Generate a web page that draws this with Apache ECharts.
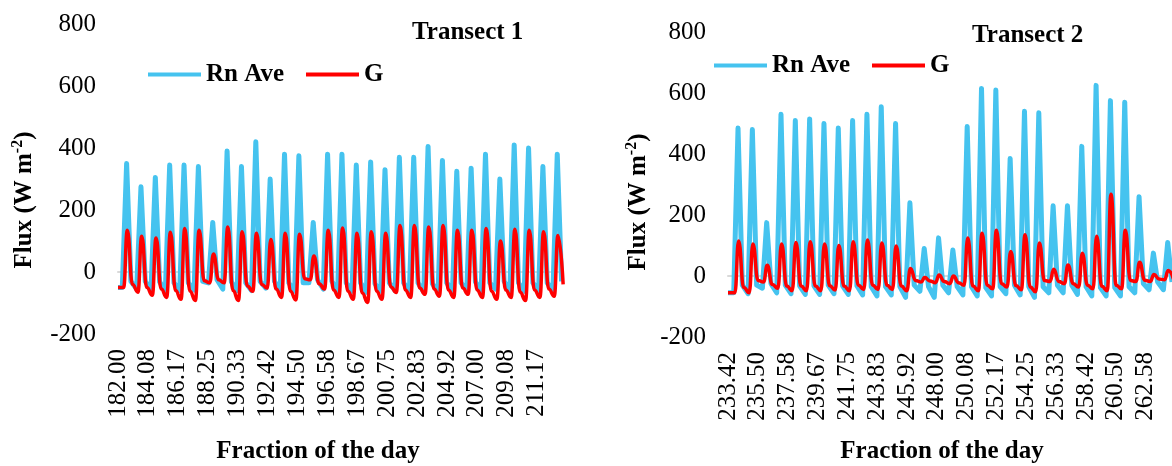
<!DOCTYPE html>
<html>
<head>
<meta charset="utf-8">
<script src="https://cdn.jsdelivr.net/npm/echarts@6/dist/echarts.min.js"></script>
<style>
  html, body { margin: 0; padding: 0; background: #fff; }
  #chart { width: 1172px; height: 466px; }
</style>
</head>
<body>
<div id="chart"></div>
<script>
// ---- Transect 1: day-of-year 182 .. 213, one diurnal cycle per day ----
const t1Start = 182;
const t1Days = 31;
const t1RnPeak = [350, 275, 305, 345, 345, 340, 160, 390, 340, 420, 300, 380, 375, 160, 380, 380,
                  345, 355, 330, 370, 370, 405, 360, 325, 335, 380, 300, 410, 400, 340, 380];
const t1RnLow  = [-50, -55, -58, -60, -60, -58, -35, -55, -60, -60, -52, -60, -62, -35, -55, -62,
                  -62, -65, -62, -60, -62, -64, -62, -60, -58, -60, -55, -62, -62, -60, -58];
const t1RnDusk = [-30, -30, -32, -35, -35, -30, -25, -32, -35, -30, -30, -35, -35, -25, -30, -35,
                  -35, -38, -35, -35, -35, -38, -35, -35, -32, -35, -30, -35, -35, -35, -30];
const t1GPeak  = [135, 115, 110, 128, 140, 135, 58, 145, 130, 125, 105, 125, 122, 52, 135, 142,
                  125, 130, 125, 150, 150, 145, 150, 135, 135, 140, 100, 138, 135, 130, 118];
const t1GLow   = [-50, -65, -75, -82, -88, -92, -35, -35, -92, -62, -52, -82, -90, -25, -55, -82,
                  -88, -98, -88, -66, -82, -72, -78, -82, -72, -82, -88, -82, -92, -82, -78];
const t1GDusk  = [-40, -50, -55, -60, -62, -28, -25, -60, -45, -40, -55, -62, -22, -38, -58, -62,
                  -68, -62, -48, -58, -52, -55, -58, -52, -58, -62, -58, -65, -58, -55, -40];

// ---- Transect 2: day-of-year 233.42 .. 264.42 ----
const t2Start = 233 + 5 / 12;
const t2Days = 31;
const t2RnPeak = [485, 480, 175, 530, 510, 515, 500, 485, 510, 530, 555, 500, 240, 90, 125, 85,
                  490, 615, 610, 385, 540, 535, 230, 230, 425, 625, 575, 570, 260, 75, 110];
const t2RnLow  = [-55, -58, -40, -55, -58, -60, -60, -58, -60, -62, -65, -62, -70, -50, -70, -55,
                  -62, -65, -65, -58, -62, -70, -55, -55, -60, -65, -65, -65, -55, -45, -45];
const t2RnDusk = [-30, -30, -25, -30, -32, -32, -30, -32, -32, -35, -35, -35, -30, -35, -30, -35,
                  -35, -38, -35, -30, -35, -35, -30, -30, -35, -38, -38, -35, -25, -20, -20];
const t2GPeak  = [115, 105, 35, 105, 110, 112, 105, 100, 112, 118, 108, 98, 25, -5, 3, 0,
                  125, 140, 150, 80, 135, 108, 22, 36, 75, 130, 268, 150, 45, 5, 18];
const t2GLow   = [-55, -55, -20, -40, -48, -48, -48, -46, -48, -44, -44, -44, -48, -20, -22, -25,
                  -30, -48, -42, -36, -45, -52, -18, -25, -36, -42, -48, -42, -18, -18, -12];
const t2GDusk  = [-38, -15, -28, -33, -33, -33, -32, -33, -30, -30, -30, -33, -15, -16, -18, -22,
                  -33, -30, -25, -31, -36, -15, -18, -25, -30, -34, -30, -15, -14, -10, -10];

// axis tick labels every 50 hours (100 half-hour records)
const tickStep = 50 / 24;
const yMin = -200, yMax = 800, yStep = 200;

// Build one [time, flux] series: pre-dawn low, midday peak, evening value per day.
function cycles(start, days, peakPhase, riseLen, fallLen, lows, peaks, dusks) {
  const pts = [[start, lows[0]]];
  for (let k = 0; k < days; k++) {
    const t = start + k + peakPhase;
    pts.push([t - riseLen, lows[k]]);
    pts.push([t, peaks[k]]);
    pts.push([t + fallLen, dusks[k]]);
  }
  return pts;
}

const FONT = '"Liberation Serif", "Times New Roman", serif';
const RN_COLOR = '#45C3EF';
const G_COLOR = '#FF0000';

const tickText = { fontFamily: FONT, fontSize: 25, color: '#000' };
const boldText = { fontFamily: FONT, fontSize: 25, color: '#000', fontWeight: 'bold' };

function xAxisFor(gridIndex, start, days) {
  return {
    type: 'value', gridIndex: gridIndex,
    min: start, max: start + days, interval: tickStep,
    axisLine: { show: true, lineStyle: { color: '#D9D9D9', width: 2 } },
    axisTick: { show: false },
    splitLine: { show: false },
    axisLabel: Object.assign({
      rotate: 90, margin: 15, showMaxLabel: false,
      formatter: v => v.toFixed(2)
    }, tickText)
  };
}
function yAxisFor(gridIndex) {
  return {
    type: 'value', gridIndex: gridIndex,
    min: yMin, max: yMax, interval: yStep,
    axisLine: { show: false }, axisTick: { show: false },
    splitLine: { show: false },
    axisLabel: Object.assign({ margin: 22 }, tickText)
  };
}
function lineSeries(name, idx, data, color, width, smooth) {
  return {
    name: name, type: 'line', xAxisIndex: idx, yAxisIndex: idx,
    data: data, showSymbol: false, symbol: 'none',
    smooth: smooth, smoothMonotone: 'x',
    lineStyle: { color: color, width: width, join: 'round' },
    itemStyle: { color: color }
  };
}
function legendAt(left, top) {
  return {
    data: ['Rn Ave', 'G'], left: left, top: top,
    icon: 'rect', itemWidth: 53, itemHeight: 4, itemGap: 22,
    textStyle: boldText
  };
}

const fluxName = {
  text: 'Flux (W m{sup|-2})',
  rich: { sup: { fontFamily: FONT, fontSize: 16, fontWeight: 'bold', verticalAlign: 'top', lineHeight: 30 } }
};

const chart = echarts.init(document.getElementById('chart'), null, { renderer: 'canvas' });
chart.setOption({
  animation: false,
  backgroundColor: '#fff',
  title: [
    { text: 'Transect 1', left: 407, top: 15, textStyle: boldText },
    { text: 'Transect 2', left: 967, top: 18, textStyle: boldText }
  ],
  legend: [legendAt(143, 57), legendAt(709, 48)],
  grid: [
    { left: 118, right: 609, top: 24, bottom: 132 },
    { left: 728, right: 0, top: 32, bottom: 129 }
  ],
  xAxis: [xAxisFor(0, t1Start, t1Days), xAxisFor(1, t2Start, t2Days)],
  yAxis: [yAxisFor(0), yAxisFor(1)],
  series: [
    lineSeries('Rn Ave', 0, cycles(t1Start, t1Days, 0.60, 0.30, 0.30, t1RnLow, t1RnPeak, t1RnDusk), RN_COLOR, 5, false),
    lineSeries('G', 0, cycles(t1Start, t1Days, 0.65, 0.26, 0.36, t1GLow, t1GPeak, t1GDusk), G_COLOR, 3.5, 0.5),
    lineSeries('Rn Ave', 1, cycles(t2Start, t2Days, 0.70, 0.30, 0.30, t2RnLow, t2RnPeak, t2RnDusk), RN_COLOR, 5, false),
    lineSeries('G', 1, cycles(t2Start, t2Days, 0.74, 0.26, 0.36, t2GLow, t2GPeak, t2GDusk), G_COLOR, 3.5, 0.5)
  ],
  graphic: [
    { type: 'text', x: 25, y: 200, rotation: Math.PI / 2,
      style: Object.assign({ align: 'center', verticalAlign: 'middle', fill: '#000',
        font: 'bold 25px ' + FONT }, fluxName) },
    { type: 'text', x: 639, y: 202, rotation: Math.PI / 2,
      style: Object.assign({ align: 'center', verticalAlign: 'middle', fill: '#000',
        font: 'bold 25px ' + FONT }, fluxName) },
    { type: 'text', x: 318, y: 452,
      style: { text: 'Fraction of the day', align: 'center', verticalAlign: 'middle', fill: '#000',
        font: 'bold 25px ' + FONT } },
    { type: 'text', x: 942, y: 452,
      style: { text: 'Fraction of the day', align: 'center', verticalAlign: 'middle', fill: '#000',
        font: 'bold 25px ' + FONT } }
  ]
});
</script>
</body>
</html>
